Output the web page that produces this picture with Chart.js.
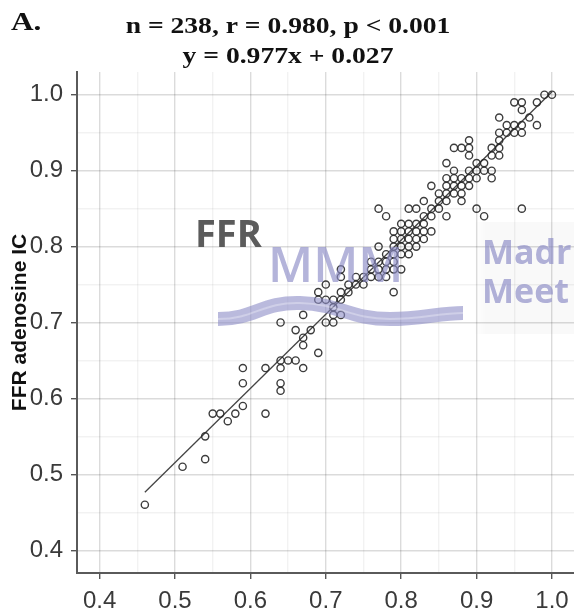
<!DOCTYPE html>
<html>
<head>
<meta charset="utf-8">
<script src="https://cdn.jsdelivr.net/npm/chart.js@4.4.1/dist/chart.umd.min.js"></script>
<style>
  html, body { margin: 0; padding: 0; background: #fff; overflow: hidden; }
  #wrap { width: 580px; height: 611px; }
</style>
</head>
<body>
<div id="wrap"><canvas id="ffrChart" width="580" height="611"></canvas></div>
<script>
// ─── Data ────────────────────────────────────────────────────────────────────
const ffrX = [
  0.46, 0.51, 0.54, 0.54, 0.55, 0.56, 0.57, 0.58, 0.59, 0.59, 0.59, 0.62, 0.62,
  0.64, 0.64, 0.64, 0.64, 0.65, 0.66, 0.67, 0.69, 0.67, 0.67, 0.66, 0.68, 0.64,
  0.67, 0.70, 0.71, 0.71, 0.72, 0.71, 0.69, 0.70, 0.71, 0.72, 0.69, 0.72, 0.73,
  0.70, 0.73, 0.74, 0.72, 0.74, 0.75, 0.76, 0.72, 0.79, 0.75,
  0.76, 0.77, 0.78, 0.79, 0.80, 0.77, 0.78,
  0.76, 0.77, 0.78, 0.79,
  0.78, 0.79, 0.80, 0.81,
  0.77, 0.79, 0.80, 0.81, 0.82,
  0.79, 0.80, 0.81, 0.82, 0.83,
  0.79, 0.80, 0.81, 0.82, 0.83, 0.84,
  0.80, 0.81, 0.82, 0.83,
  0.83, 0.84,
  0.81, 0.82, 0.84, 0.85,
  0.77, 0.78,
  0.86, 0.90, 0.91, 0.96,
  0.83, 0.85, 0.86, 0.88,
  0.85, 0.86, 0.87, 0.88,
  0.84, 0.86, 0.87, 0.88, 0.89,
  0.86, 0.87, 0.88, 0.89, 0.90, 0.92,
  0.87, 0.89, 0.90, 0.91, 0.92,
  0.86, 0.90, 0.91,
  0.89, 0.92, 0.93,
  0.87, 0.88, 0.89, 0.92, 0.93,
  0.89, 0.93,
  0.93, 0.94, 0.95, 0.96,
  0.94, 0.95, 0.96, 0.98,
  0.93, 0.97,
  0.96,
  0.95, 0.96, 0.98,
  0.99, 1.00
];
const ffrY = [
  0.46, 0.51, 0.52, 0.55, 0.58, 0.58, 0.57, 0.58, 0.59, 0.62, 0.64, 0.58, 0.64,
  0.61, 0.62, 0.64, 0.65, 0.65, 0.65, 0.64, 0.66, 0.67, 0.68, 0.69, 0.69, 0.70,
  0.71, 0.70, 0.70, 0.71, 0.71, 0.72, 0.73, 0.73, 0.73, 0.73, 0.74, 0.74, 0.74,
  0.75, 0.75, 0.75, 0.76, 0.76, 0.76, 0.76, 0.77, 0.74, 0.75,
  0.77, 0.77, 0.77, 0.77, 0.77, 0.76, 0.76,
  0.78, 0.78, 0.78, 0.78,
  0.79, 0.79, 0.79, 0.79,
  0.80, 0.80, 0.80, 0.80, 0.80,
  0.81, 0.81, 0.81, 0.81, 0.81,
  0.82, 0.82, 0.82, 0.82, 0.82, 0.82,
  0.83, 0.83, 0.83, 0.83,
  0.84, 0.84,
  0.85, 0.85, 0.85, 0.85,
  0.85, 0.84,
  0.84, 0.85, 0.84, 0.85,
  0.86, 0.86, 0.86, 0.86,
  0.87, 0.87, 0.87, 0.87,
  0.88, 0.88, 0.88, 0.88, 0.88,
  0.89, 0.89, 0.89, 0.89, 0.89, 0.89,
  0.90, 0.90, 0.90, 0.90, 0.90,
  0.91, 0.91, 0.91,
  0.92, 0.92, 0.92,
  0.93, 0.93, 0.93, 0.93, 0.93,
  0.94, 0.94,
  0.95, 0.95, 0.95, 0.95,
  0.96, 0.96, 0.96, 0.96,
  0.97, 0.97,
  0.98,
  0.99, 0.99, 0.99,
  1.00, 1.00
];

// regression y = 0.977x + 0.027, drawn over the observed x range
const fitSlope = 0.977;
const fitIntercept = 0.027;
const fitRange = [0.46, 1.0];

const majorTicks = [0.4, 0.5, 0.6, 0.7, 0.8, 0.9, 1.0];
const titleLines = ['n = 238, r = 0.980, p < 0.001', 'y = 0.977x + 0.027'];
const panelLabel = 'A.';
const yAxisLabel = 'FFR adenosine IC';

// ─── Helpers ─────────────────────────────────────────────────────────────────
function isMajor(v) {
  return majorTicks.some(t => Math.abs(t - v) < 1e-6);
}

const TICK_FONT = { family: "'Liberation Sans Narrow', 'Liberation Sans', Arial, sans-serif", size: 24 };

function axisOpts(fitKey, fitVal) {
  return {
    type: 'linear',
    min: 0.37, max: 1.03,
    afterFit(scale) { scale[fitKey] = fitVal; },
    ticks: {
      stepSize: 0.05,
      includeBounds: false,
      autoSkip: false,
      maxRotation: 0,
      padding: 8,
      color: '#3a3a3a',
      font: TICK_FONT,
      callback: (v) => isMajor(v) ? v.toFixed(1) : ''
    },
    grid: {
      color: (c) => (c.tick && isMajor(c.tick.value)) ? 'rgba(0,0,0,0.14)' : 'rgba(0,0,0,0.05)',
      lineWidth: 1.4,
      tickColor: (c) => (c.tick && isMajor(c.tick.value)) ? '#555' : 'rgba(0,0,0,0)',
      tickLength: 6,
      drawTicks: true
    },
    border: { display: true, color: '#5a5a5a', width: 2 }
  };
}

// ─── Title / panel label ─────────────────────────────────────────────────────
const titlePlugin = {
  id: 'titleText',
  afterDraw(chart) {
    const ctx = chart.ctx;
    ctx.save();
    ctx.fillStyle = '#111';
    ctx.textBaseline = 'alphabetic';
    ctx.font = "bold 25px 'Liberation Serif', 'Times New Roman', serif";
    // serif text in the figure is slightly wide; stretch horizontally
    ctx.save();
    ctx.translate(11, 30);
    ctx.scale(1.25, 1);
    ctx.textAlign = 'left';
    ctx.fillText(panelLabel, 0, 0);
    ctx.restore();

    ctx.font = "bold 23px 'Liberation Serif', 'Times New Roman', serif";
    ctx.textAlign = 'center';
    [[titleLines[0], 33], [titleLines[1], 63]].forEach(([txt, y]) => {
      ctx.save();
      ctx.translate(288, y);
      ctx.scale(1.2, 1);
      ctx.fillText(txt, 0, 0);
      ctx.restore();
    });
    ctx.restore();
  }
};

// ─── Conference watermark overlay ────────────────────────────────────────────
const watermarkPlugin = {
  id: 'watermark',
  afterDatasetsDraw(chart) {
    const ctx = chart.ctx;
    ctx.save();
    // faint panel behind the right-hand words
    const g = ctx.createLinearGradient(474, 0, 486, 0);
    g.addColorStop(0, 'rgba(0,0,0,0)');
    g.addColorStop(1, 'rgba(0,0,0,0.025)');
    ctx.fillStyle = g;
    ctx.fillRect(474, 222, 110, 112);

    ctx.fillStyle = 'rgba(140,140,198,0.65)';
    ctx.font = "600 49px 'Open Sans', sans-serif";
    ctx.textAlign = 'left';
    ctx.textBaseline = 'alphabetic';
    ctx.fillText('MMM', 268, 282);

    ctx.fillStyle = 'rgba(140,140,198,0.68)';
    ctx.font = "bold 34px 'Open Sans', sans-serif";
    ctx.fillText('Madr', 482, 264);
    ctx.fillText('Meet', 482, 303);

    // wave
    ctx.beginPath();
    ctx.moveTo(218, 319);
    ctx.bezierCurveTo(255, 319, 262, 302, 300, 303);
    ctx.bezierCurveTo(340, 304, 350, 319, 390, 319);
    ctx.bezierCurveTo(420, 319, 440, 313, 463, 313);
    ctx.lineWidth = 14;
    ctx.strokeStyle = 'rgba(140,140,198,0.6)';
    ctx.stroke();
    ctx.lineWidth = 2;
    ctx.strokeStyle = 'rgba(255,255,255,0.3)';
    ctx.stroke();

    ctx.fillStyle = '#5b5b5b';
    ctx.font = "bold 38px 'Open Sans', sans-serif";
    ctx.fillText('FFR', 195, 247);
    ctx.restore();
  }
};

// ─── Chart ───────────────────────────────────────────────────────────────────
const points = ffrX.map((x, i) => ({ x, y: ffrY[i] }));
const fitLine = fitRange.map(x => ({ x, y: fitSlope * x + fitIntercept }));

new Chart(document.getElementById('ffrChart').getContext('2d'), {
  type: 'scatter',
  data: {
    datasets: [{
      label: 'patients',
      data: points,
      pointStyle: 'circle',
      pointRadius: 3.6,
      borderWidth: 1.4,
      borderColor: 'rgba(40,40,40,0.9)',
      backgroundColor: 'rgba(0,0,0,0)'
    }, {
      label: 'fit',
      type: 'line',
      data: fitLine,
      borderColor: '#444',
      borderWidth: 1.3,
      pointRadius: 0,
      fill: false,
      tension: 0
    }]
  },
  options: {
    responsive: false,
    animation: false,
    layout: { padding: { top: 72, right: 3, left: 0, bottom: 0 } },
    plugins: {
      legend: { display: false },
      tooltip: { enabled: false }
    },
    scales: {
      x: axisOpts('height', 38),
      y: Object.assign(axisOpts('width', 77), {
        title: {
          display: true,
          text: yAxisLabel,
          color: '#111',
          font: { family: "'Liberation Sans', Arial, sans-serif", size: 21, weight: 'bold' },
          padding: { top: 8, bottom: 0 }
        }
      })
    }
  },
  plugins: [watermarkPlugin, titlePlugin]
});
</script>
</body>
</html>
